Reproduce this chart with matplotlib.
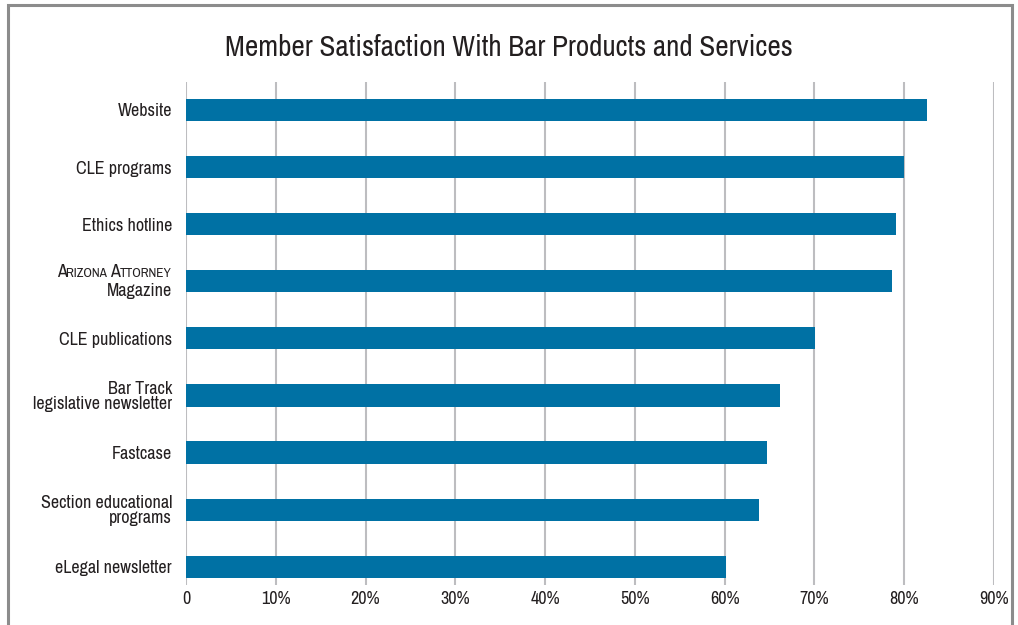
import numpy as np
import matplotlib.pyplot as plt
from matplotlib.patches import Rectangle
from matplotlib.offsetbox import TextArea, HPacker, VPacker, AnnotationBbox

FONT = ["Archivo Narrow", "DejaVu Sans"]
plt.rcParams.update({
    "font.family": FONT,
    "font.weight": 500,
    "text.color": "#231f20",
    "xtick.color": "#231f20",
    "ytick.color": "#231f20",
})

categories = ["Website", "CLE programs", "Ethics hotline", "ARIZONA_ATTORNEY",
              "CLE publications", "Bar Track\nlegislative newsletter", "Fastcase",
              "Section educational\nprograms", "eLegal newsletter"]
satisfaction = [82.5, 80.0, 79.1, 78.6, 70.1, 66.2, 64.7, 63.8, 60.2]
xticks = [0, 10, 20, 30, 40, 50, 60, 70, 80, 90]
xticklabels = ["0"] + [f"{t}%" for t in xticks[1:]]

bar_color = "#0071a4"
grid_color = "#bdbdc0"
text_color = "#231f20"
label_size = 13

fig = plt.figure(figsize=(10.18, 6.25), dpi=100)
# outer frame
fig.patches.append(Rectangle((8 / 1018, -0.1), 1004 / 1018, 1.1 - 5 / 625,
                             transform=fig.transFigure, fill=False,
                             edgecolor="#8c8c8c", linewidth=2.2))

ax = fig.add_axes([186 / 1018, 40 / 625, 808 / 1018, 503 / 625])
y = np.arange(len(categories))
ax.barh(y, satisfaction, height=0.39, color=bar_color, zorder=3)

ax.set_xlim(0, 90)
ax.set_ylim(8.32, -0.49)
ax.set_xticks(xticks)
ax.set_xticklabels(xticklabels, fontsize=label_size)
ax.grid(axis="x", color=grid_color, linewidth=1.5, zorder=0)
ax.tick_params(axis="x", length=0, pad=4)
ax.tick_params(axis="y", length=0, pad=10)
for s in ax.spines.values():
    s.set_visible(False)

ax.set_yticks(y)
ax.set_yticklabels([("" if c == "ARIZONA_ATTORNEY" else c) for c in categories],
                   fontsize=label_size, linespacing=0.9)

# small-caps magazine title
big = dict(fontsize=label_size, color=text_color, family=FONT, weight=500)
small = dict(fontsize=label_size * 0.74, color=text_color, family=FONT, weight=500)
line1 = HPacker(children=[TextArea("A", textprops=big), TextArea("RIZONA ", textprops=small),
                          TextArea("A", textprops=big), TextArea("TTORNEY", textprops=small)],
                align="baseline", pad=0, sep=0)
line2 = TextArea("Magazine", textprops=big)
box = VPacker(children=[line1, line2], align="right", pad=0, sep=2)
idx = categories.index("ARIZONA_ATTORNEY")
ab = AnnotationBbox(box, (0, idx), xybox=(-10, 0), xycoords=("axes fraction", "data"),
                    boxcoords="offset points", box_alignment=(1, 0.5), frameon=False)
ax.add_artist(ab)

fig.text(0.5, 1 - 47 / 625, "Member Satisfaction With Bar Products and Services",
         ha="center", va="center", fontsize=21, color=text_color, weight=500)

fig.savefig("out.png", dpi=100)
